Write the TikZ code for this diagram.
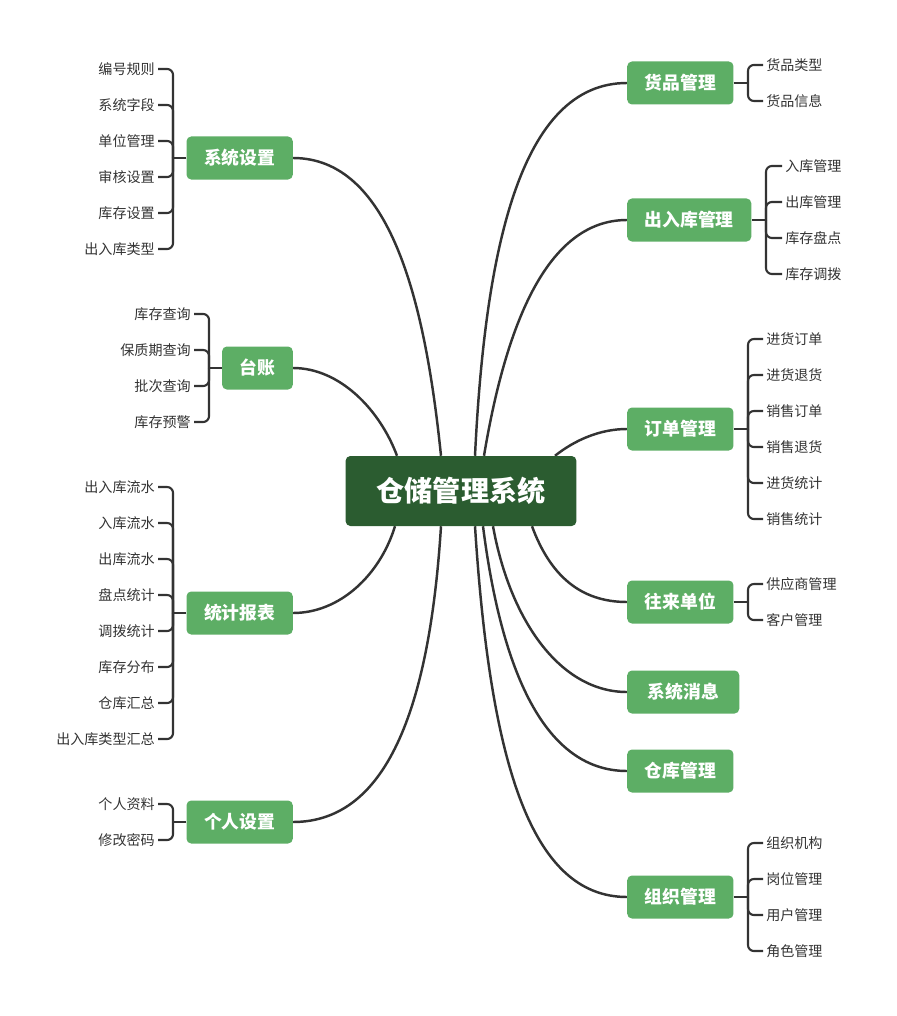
\documentclass[tikz,border=0pt]{standalone}
\usepackage{fontspec}
\setmainfont{Noto Sans CJK SC}
\usetikzlibrary{calc,backgrounds}
\definecolor{rootgreen}{HTML}{2B5C30}
\definecolor{topicgreen}{HTML}{5DAE65}
\definecolor{linegray}{HTML}{333333}
\tikzset{
  root/.style={fill=rootgreen, text=white, rounded corners=4pt, minimum height=2.1cm,
    inner xsep=0.93cm, font=\fontsize{24}{28}\selectfont\bfseries},
  topic/.style={fill=topicgreen, text=white, rounded corners=4pt, minimum height=1.29cm,
    inner xsep=0.525cm, font=\fontsize{15.2}{18}\selectfont\bfseries},
  leaf/.style={text=linegray, inner ysep=1pt, inner xsep=2.6pt, font=\fontsize{12}{14}\selectfont},
  link/.style={draw=linegray, line width=2.1pt},
  brace/.style={draw=linegray, line width=1.8pt, rounded corners=5pt},
}
\begin{document}
\begin{tikzpicture}[x=0.03cm, y=-0.03cm]
  \useasboundingbox (0,0) rectangle (896,1016);
  % centre and main topics
  \node[root] (wms) at (461,491) {仓储管理系统};
  \node[topic, anchor=west] (goods) at (627,83) {货品管理};
  \node[topic, anchor=west] (stock) at (627,220) {出入库管理};
  \node[topic, anchor=west] (order) at (627,429) {订单管理};
  \node[topic, anchor=west] (partner) at (627,602) {往来单位};
  \node[topic, anchor=west, minimum width=3.36cm] (msg) at (627,692) {系统消息};
  \node[topic, anchor=west] (depot) at (627,771) {仓库管理};
  \node[topic, anchor=west] (org) at (627,897) {组织管理};
  \node[topic, anchor=east] (setting) at (293,158) {系统设置};
  \node[topic, anchor=east] (ledger) at (293,368) {台账};
  \node[topic, anchor=east] (report) at (293,613) {统计报表};
  \node[topic, anchor=east] (personal) at (293,822) {个人设置};

  \begin{scope}[on background layer]
    \draw[link] ($(wms.north)+(14,0)$) .. controls (485,250) and (520,83) .. (goods.west);
    \draw[link] ($(wms.north)+(23,0)$) .. controls (505,330) and (545,220) .. (stock.west);
    \draw[link] ($(wms.north)+(94,0)$) .. controls (575,440) and (600,429) .. (order.west);
    \draw[link] ($(wms.south)+(71,0)$) .. controls (550,575) and (580,602) .. (partner.west);
    \draw[link] ($(wms.south)+(32,0)$) .. controls (510,620) and (560,692) .. (msg.west);
    \draw[link] ($(wms.south)+(22,0)$) .. controls (500,660) and (540,771) .. (depot.west);
    \draw[link] ($(wms.south)+(14,0)$) .. controls (490,760) and (530,897) .. (org.west);
    \draw[link] ($(wms.north)+(-20,0)$) .. controls (425,300) and (390,158) .. (setting.east);
    \draw[link] ($(wms.north)+(-64,0)$) .. controls (380,410) and (340,368) .. (ledger.east);
    \draw[link] ($(wms.south)+(-66,0)$) .. controls (380,575) and (340,613) .. (report.east);
    \draw[link] ($(wms.south)+(-20,0)$) .. controls (430,700) and (390,822) .. (personal.east);
  \end{scope}

  % right leaves
  \coordinate (goodsj) at (748,83);
  \draw[brace] (goods.east) -- (goodsj);
  \foreach \y/\t [count=\i] in {65/货品类型, 101/货品信息} {
    \node[leaf, anchor=west] (goods\i) at (763,\y) {\t};
    \draw[brace] (goods\i.west) -| (goodsj);
  }
  \coordinate (stockj) at (766,220);
  \draw[brace] (stock.east) -- (stockj);
  \foreach \y/\t [count=\i] in {166/入库管理, 202/出库管理, 238/库存盘点, 274/库存调拨} {
    \node[leaf, anchor=west] (stock\i) at (782,\y) {\t};
    \draw[brace] (stock\i.west) -| (stockj);
  }
  \coordinate (orderj) at (748,429);
  \draw[brace] (order.east) -- (orderj);
  \foreach \y/\t [count=\i] in {339/进货订单, 375/进货退货, 411/销售订单, 447/销售退货, 483/进货统计, 519/销售统计} {
    \node[leaf, anchor=west] (order\i) at (763,\y) {\t};
    \draw[brace] (order\i.west) -| (orderj);
  }
  \coordinate (partnerj) at (748,602);
  \draw[brace] (partner.east) -- (partnerj);
  \foreach \y/\t [count=\i] in {584/供应商管理, 620/客户管理} {
    \node[leaf, anchor=west] (partner\i) at (763,\y) {\t};
    \draw[brace] (partner\i.west) -| (partnerj);
  }
  \coordinate (orgj) at (748,897);
  \draw[brace] (org.east) -- (orgj);
  \foreach \y/\t [count=\i] in {843/组织机构, 879/岗位管理, 915/用户管理, 951/角色管理} {
    \node[leaf, anchor=west] (org\i) at (763,\y) {\t};
    \draw[brace] (org\i.west) -| (orgj);
  }

  % left leaves
  \coordinate (settingj) at (173,158);
  \draw[brace] (setting.west) -- (settingj);
  \foreach \y/\t [count=\i] in {69/编号规则, 105/系统字段, 141/单位管理, 177/审核设置, 213/库存设置, 249/出入库类型} {
    \node[leaf, anchor=east] (setting\i) at (158,\y) {\t};
    \draw[brace] (setting\i.east) -| (settingj);
  }
  \coordinate (ledgerj) at (209,368);
  \draw[brace] (ledger.west) -- (ledgerj);
  \foreach \y/\t [count=\i] in {314/库存查询, 350/保质期查询, 386/批次查询, 422/库存预警} {
    \node[leaf, anchor=east] (ledger\i) at (194,\y) {\t};
    \draw[brace] (ledger\i.east) -| (ledgerj);
  }
  \coordinate (reportj) at (173,613);
  \draw[brace] (report.west) -- (reportj);
  \foreach \y/\t [count=\i] in {487/出入库流水, 523/入库流水, 559/出库流水, 595/盘点统计, 631/调拨统计, 667/库存分布, 703/仓库汇总, 739/出入库类型汇总} {
    \node[leaf, anchor=east] (report\i) at (158,\y) {\t};
    \draw[brace] (report\i.east) -| (reportj);
  }
  \coordinate (personalj) at (173,822);
  \draw[brace] (personal.west) -- (personalj);
  \foreach \y/\t [count=\i] in {804/个人资料, 840/修改密码} {
    \node[leaf, anchor=east] (personal\i) at (158,\y) {\t};
    \draw[brace] (personal\i.east) -| (personalj);
  }
\end{tikzpicture}
\end{document}
